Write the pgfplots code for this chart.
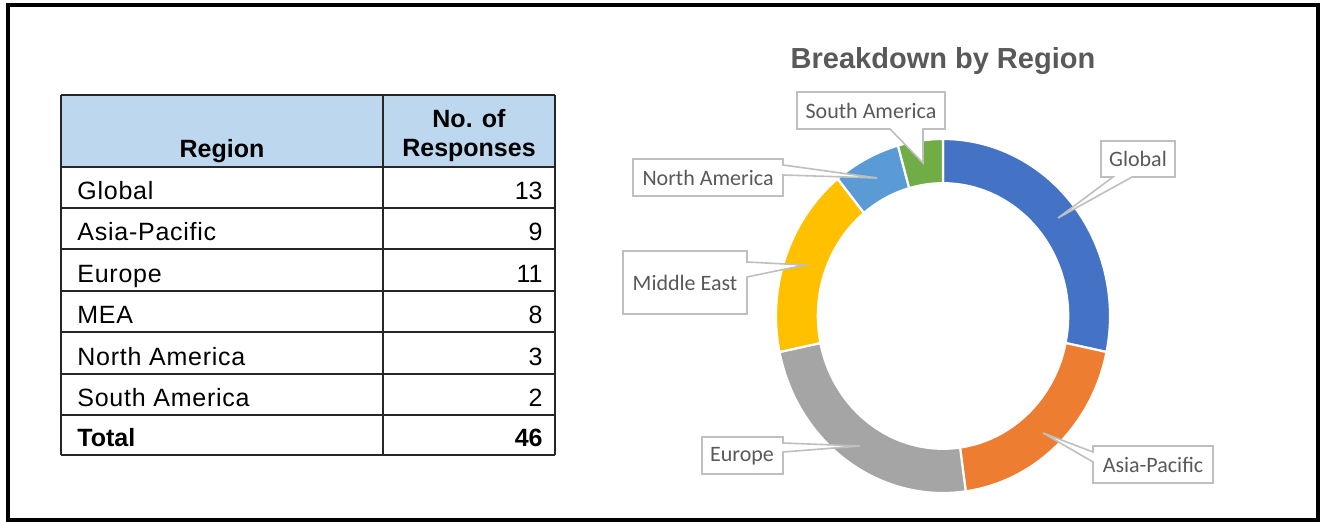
\documentclass[border=0pt]{standalone}
\usepackage{pgfplots}
\pgfplotsset{compat=1.18}
\usepackage{pgfplotstable}
\usepackage{fontspec}
\setmainfont{Liberation Sans}
\newfontfamily\calibri{Carlito}
\newfontfamily\spaced[LetterSpace=3]{Liberation Sans}
\definecolor{seg0}{HTML}{4472C4}
\definecolor{seg1}{HTML}{ED7D31}
\definecolor{seg2}{HTML}{A5A5A5}
\definecolor{seg3}{HTML}{FFC000}
\definecolor{seg4}{HTML}{5B9BD5}
\definecolor{seg5}{HTML}{70AD47}
\definecolor{lbl}{HTML}{595959}
\definecolor{lblbox}{HTML}{BFBFBF}
\definecolor{hdr}{HTML}{BDD7EE}

% responses per region: Global, Asia-Pacific, Europe, MEA, North America, South America
\pgfplotstableread{
n
13
9
11
8
3
2
}\regiontable

\begin{document}
\begin{tikzpicture}
\xdef\total{0}
\foreach \i in {0,...,5}{%
  \pgfplotstablegetelem{\i}{n}\of\regiontable
  \expandafter\xdef\csname val\i\endcsname{\pgfplotsretval}%
  \pgfmathtruncatemacro\tmpt{\total+\pgfplotsretval}%
  \xdef\total{\tmpt}%
}
\xdef\cumsum{0}
\foreach \i in {0,...,5}{%
  \pgfmathsetmacro\tmps{90-\cumsum/\total*360}%
  \pgfmathsetmacro\tmpc{\cumsum+\csname val\i\endcsname}%
  \xdef\cumsum{\tmpc}%
  \pgfmathsetmacro\tmpe{90-\cumsum/\total*360}%
  \expandafter\xdef\csname segS\i\endcsname{\tmps}%
  \expandafter\xdef\csname segE\i\endcsname{\tmpe}%
}
\begin{axis}[
  width=660pt, height=261pt, scale only axis,
  xmin=0, xmax=1320, ymin=0, ymax=522, y dir=reverse,
  hide axis, clip=false]
\path[fill=white] (axis cs:0,0) rectangle (axis cs:1320,522);

% ---------- table ----------
\fill[hdr] (axis cs:61,95) rectangle (axis cs:555,167);
\pgfplotsinvokeforeach{95,167,208,249,291,332,374,415,455}{
  \draw[black!85, line width=0.9pt] (axis cs:61,#1) -- (axis cs:555,#1);
}
\draw[black!85, line width=0.9pt] (axis cs:61,95) -- (axis cs:61,455);
\draw[black!85, line width=0.9pt] (axis cs:383,95) -- (axis cs:383,455);
\draw[black!85, line width=0.9pt] (axis cs:555,95) -- (axis cs:555,455);

\tikzset{tt/.style={font=\spaced\fontsize{12.5}{14}\selectfont, inner sep=0pt},
         tn/.style={font=\fontsize{12.5}{14}\selectfont, inner sep=0pt},
         tb/.style={font=\fontsize{12.5}{14}\selectfont\bfseries, inner sep=0pt}}
\node[tb, anchor=base] at (axis cs:222,158) {Region};
\node[tb, anchor=base] at (axis cs:469,128) {No. of};
\node[tb, anchor=base] at (axis cs:469,157) {Responses};

\node[tt, anchor=base west] at (axis cs:77,200) {Global};
\node[tt, anchor=base west] at (axis cs:77,241) {Asia-Pacific};
\node[tt, anchor=base west] at (axis cs:77,283) {Europe};
\node[tt, anchor=base west] at (axis cs:77,324) {MEA};
\node[tt, anchor=base west] at (axis cs:77,366) {North America};
\node[tt, anchor=base west] at (axis cs:77,407) {South America};
\node[tb, anchor=base west] at (axis cs:77,447) {Total};

\node[tn, anchor=base east] at (axis cs:543,200) {\csname val0\endcsname};
\node[tn, anchor=base east] at (axis cs:543,241) {\csname val1\endcsname};
\node[tn, anchor=base east] at (axis cs:543,283) {\csname val2\endcsname};
\node[tn, anchor=base east] at (axis cs:543,324) {\csname val3\endcsname};
\node[tn, anchor=base east] at (axis cs:543,366) {\csname val4\endcsname};
\node[tn, anchor=base east] at (axis cs:543,407) {\csname val5\endcsname};
\node[tb, anchor=base east] at (axis cs:543,447) {\total};

% ---------- donut ----------
\pgfplotsinvokeforeach{0,...,5}{
  \filldraw[fill=seg#1, draw=white, line width=1.1pt, line join=miter]
    ([shift={(\csname segS#1\endcsname:83.5pt and 88.5pt)}]axis cs:943,316)
    arc[start angle=\csname segS#1\endcsname, end angle=\csname segE#1\endcsname, x radius=83.5pt, y radius=88.5pt]
    -- ([shift={(\csname segE#1\endcsname:62.6pt and 66.4pt)}]axis cs:943,316)
    arc[start angle=\csname segE#1\endcsname, end angle=\csname segS#1\endcsname, x radius=62.6pt, y radius=66.4pt]
    -- cycle;
}

% ---------- callouts ----------
\tikzset{callout/.style={fill=white, draw=lblbox, line width=0.8pt, line join=miter}}
\filldraw[callout] (axis cs:797,92) -- (axis cs:945,92) -- (axis cs:945,129) -- (axis cs:923,129) -- (axis cs:923,163) -- (axis cs:890,129) -- (axis cs:797,129) -- cycle;
\filldraw[callout] (axis cs:633,159) -- (axis cs:783,159) -- (axis cs:783,165) -- (axis cs:877,178) -- (axis cs:783,175) -- (axis cs:783,196) -- (axis cs:633,196) -- cycle;
\filldraw[callout] (axis cs:623,251) -- (axis cs:747,251) -- (axis cs:747,262) -- (axis cs:805,265) -- (axis cs:747,277) -- (axis cs:747,314) -- (axis cs:623,314) -- cycle;
\filldraw[callout] (axis cs:1101,141) -- (axis cs:1175,141) -- (axis cs:1175,177) -- (axis cs:1132,177) -- (axis cs:1058,218) -- (axis cs:1113,177) -- (axis cs:1101,177) -- cycle;
\filldraw[callout] (axis cs:702,437) -- (axis cs:783,437) -- (axis cs:783,443) -- (axis cs:860,446) -- (axis cs:783,452) -- (axis cs:783,474) -- (axis cs:702,474) -- cycle;
\filldraw[callout] (axis cs:1093,446) -- (axis cs:1213,446) -- (axis cs:1213,483) -- (axis cs:1093,483) -- (axis cs:1093,462) -- (axis cs:1043,433) -- (axis cs:1093,452) -- cycle;

\tikzset{lab/.style={font=\calibri\fontsize{11}{13}\selectfont, text=lbl, anchor=center, inner sep=0pt}}
\node[lab] at (axis cs:871,111) {South America};
\node[lab] at (axis cs:708,178) {North America};
\node[lab] at (axis cs:685,283) {Middle East};
\node[lab] at (axis cs:1138,159) {Global};
\node[lab] at (axis cs:742,456) {Europe};
\node[lab] at (axis cs:1153,465) {Asia-Pacific};

% ---------- title ----------
\node[font=\fontsize{14.5}{17}\selectfont\bfseries, text=lbl, anchor=center] at (axis cs:943,61) {Breakdown by Region};

% ---------- frame ----------
\draw[black, line width=2pt] (axis cs:7.5,5.5) rectangle (axis cs:1318,520);
\end{axis}
\end{tikzpicture}
\end{document}
